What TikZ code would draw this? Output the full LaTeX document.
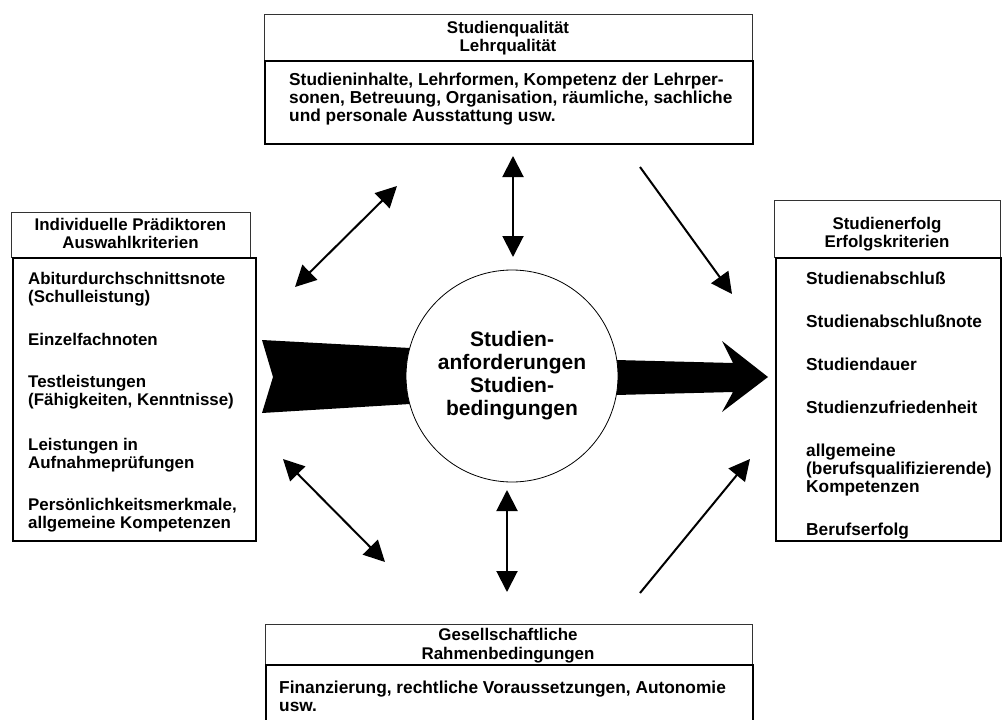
\documentclass[tikz,border=0pt]{standalone}
\usepackage{fontspec}
\setmainfont{Liberation Sans}
\usetikzlibrary{arrows.meta}
\begin{document}
\begin{tikzpicture}[x=1pt,y=-1pt,
  hdr/.style={draw=black!80, line width=0.9pt, inner sep=0, anchor=north west},
  body/.style={draw=black, line width=2pt, inner sep=0, anchor=north west},
  ln/.style={inner sep=0, anchor=base west, font=\bfseries\fontsize{17.3}{18}\selectfont},
  lnl/.style={ln, font=\bfseries\fontsize{16.9}{18}\selectfont},
  hl/.style={inner sep=0, anchor=base, font=\bfseries\fontsize{16.9}{18}\selectfont},
  tip/.tip={Triangle[length=21pt,width=21pt]},
  dbl/.style={line width=2pt, tip-tip},
  sgl/.style={line width=2pt, -tip},
]
\useasboundingbox (0,0) rectangle (1004,720);

% ---------- boxes ----------
\node[hdr, minimum width=488pt, minimum height=46pt] (topH) at (264,14) {};
\node[body, minimum width=488pt, minimum height=83pt] (topB) at (264,60) {};
\node[hdr, minimum width=239pt, minimum height=45pt] (leftH) at (11,212) {};
\node[body, minimum width=243pt, minimum height=283pt] (leftB) at (12,257) {};
\node[hdr, minimum width=226pt, minimum height=57pt] (rightH) at (774,200) {};
\node[body, minimum width=225pt, minimum height=283pt] (rightB) at (775,257) {};
\node[hdr, minimum width=487pt, minimum height=40pt] (botH) at (265,624) {};
\node[body, minimum width=487pt, minimum height=70pt] (botB) at (265,664) {};

% ---------- top box text ----------
\node[hl] (t1) at (508,33) {Studienqualität};
\node[hl] (t2) at (508,51) {Lehrqualität};
\node[ln] (t3) at (289,85) {Studieninhalte, Lehrformen, Kompetenz der Lehrper-};
\node[ln] (t4) at (289,103) {sonen, Betreuung, Organisation, räumliche, sachliche};
\node[ln] (t5) at (289,121) {und personale Ausstattung usw.};

% ---------- left box text ----------
\node[hl] (l0a) at (130.5,230) {Individuelle Prädiktoren};
\node[hl] (l0b) at (130.5,248) {Auswahlkriterien};
\node[lnl] (l1) at (28,284) {Abiturdurchschnittsnote};
\node[lnl] (l2) at (28,302) {(Schulleistung)};
\node[lnl] (l3) at (28,345) {Einzelfachnoten};
\node[lnl] (l4) at (28,387) {Testleistungen};
\node[lnl] (l5) at (28,405) {(Fähigkeiten, Kenntnisse)};
\node[lnl] (l6) at (28,450) {Leistungen in};
\node[lnl] (l7) at (28,468) {Aufnahmeprüfungen};
\node[lnl] (l8) at (28,510) {Persönlichkeitsmerkmale,};
\node[lnl] (l9) at (28,528) {allgemeine Kompetenzen};

% ---------- right box text ----------
\node[hl] (r0a) at (887,229) {Studienerfolg};
\node[hl] (r0b) at (887,247) {Erfolgskriterien};
\node[ln] (r1) at (806,284) {Studienabschluß};
\node[ln] (r2) at (806,327) {Studienabschlußnote};
\node[ln] (r3) at (806,370) {Studiendauer};
\node[ln] (r4) at (806,413) {Studienzufriedenheit};
\node[ln] (r5) at (806,456) {allgemeine};
\node[ln] (r6) at (806,474) {(berufsqualifizierende)};
\node[ln] (r7) at (806,492) {Kompetenzen};
\node[ln] (r8) at (806,535) {Berufserfolg};

% ---------- bottom box text ----------
\node[hl] (b0a) at (508,640) {Gesellschaftliche};
\node[hl] (b0b) at (508,659) {Rahmenbedingungen};
\node[ln] (b1) at (279,693) {Finanzierung, rechtliche Voraussetzungen, Autonomie};
\node[ln] (b2) at (279,711) {usw.};

% ---------- big arrow ----------
\fill[black] (262,340) -- (410,348) -- (616,360) -- (733,363) -- (722,341)
  -- (768,377) -- (722,412) -- (733,392) -- (616,395) -- (410,404)
  -- (262,413) -- (273,377) -- cycle;

% ---------- centre circle ----------
\node[circle, draw, line width=0.8pt, fill=white, minimum size=212pt, inner sep=0,
  align=center, font=\bfseries\fontsize{21}{23}\selectfont] (circ) at (512,376)
  {Studien-\\anforderungen\\Studien-\\bedingungen};

% ---------- connector end points ----------
\coordinate (a1s) at (295,287); \coordinate (a1e) at (397,186);
\coordinate (a2s) at (513,156); \coordinate (a2e) at (513,257);
\coordinate (a3s) at (640,167); \coordinate (a3e) at (732,294);
\coordinate (a4s) at (283,459); \coordinate (a4e) at (385,562);
\coordinate (a5s) at (507,490); \coordinate (a5e) at (507,592);
\coordinate (a6s) at (640,593); \coordinate (a6e) at (750,459);

\draw[dbl] (a1s) -- (a1e);
\draw[dbl] (a2s) -- (a2e);
\draw[sgl] (a3s) -- (a3e);
\draw[dbl] (a4s) -- (a4e);
\draw[dbl] (a5s) -- (a5e);
\draw[sgl] (a6s) -- (a6e);
\end{tikzpicture}
\end{document}
